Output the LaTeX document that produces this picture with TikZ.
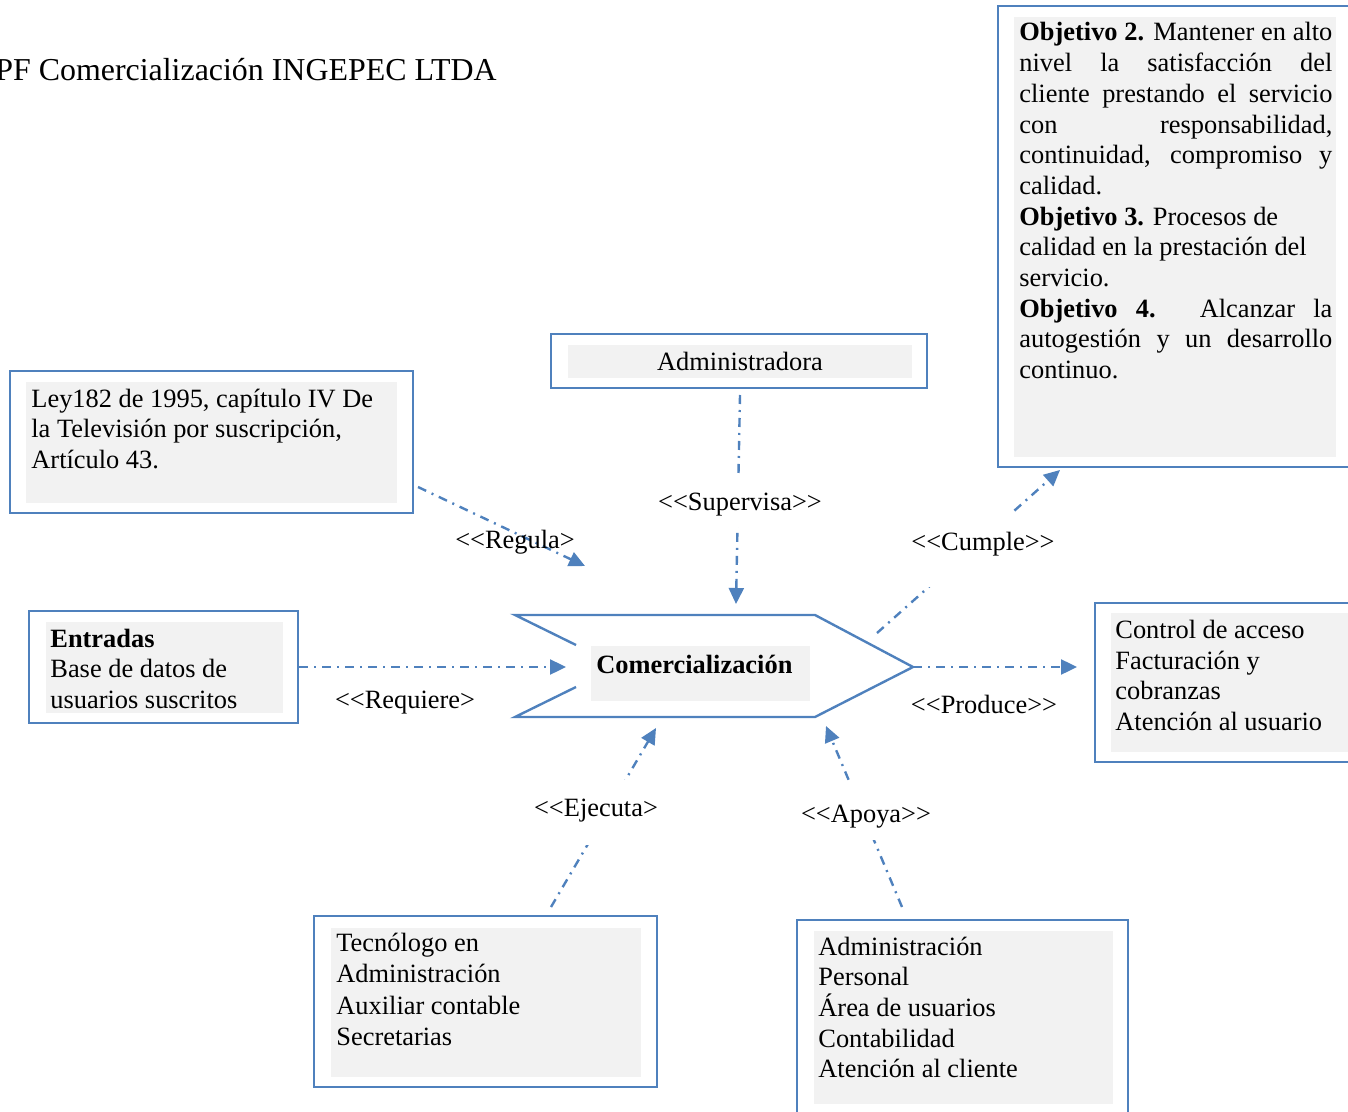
\documentclass[tikz,border=0pt]{standalone}
\usepackage{fontspec}
\setmainfont{Liberation Serif}
\usetikzlibrary{arrows.meta,fit}
\definecolor{edgeblue}{RGB}{79,129,189}
\definecolor{panelgrey}{RGB}{242,242,242}
% guillemet-free double angle brackets
\newcommand{\dlt}{<\kern0pt<}
\newcommand{\dgt}{>\kern0pt>}

\begin{document}
\begin{tikzpicture}[x=0.5pt,y=-0.5pt,
  boxframe/.style={draw=edgeblue, line width=1.2pt, inner sep=0pt},
  boxpanel/.style={fill=panelgrey, inner sep=0pt},
  bodyfont/.style={font=\fontsize{13.2}{15.35}\selectfont},
  txt/.style={bodyfont, anchor=base west, inner sep=0pt, align=left},
  link/.style={draw=edgeblue, line width=1.2pt,
    dash pattern=on 4.5pt off 3pt on 1pt off 3pt,
    -{Triangle[length=8pt,width=7.5pt]}},
  tag/.style={bodyfont, anchor=base, inner sep=0pt},
  gaptag/.style={tag, fill=white}
]
\useasboundingbox (0,0) rectangle (1348,1112);

% title
\node[anchor=base west, inner sep=0pt, font=\fontsize{15.95}{18}\selectfont] (title) at (-5,81)
  {PF Comercialización INGEPEC LTDA};

% objectives (top right)
\node[boxframe, fit={(998,6) (1356,467)}] (obj) {};
\node[boxpanel, fit={(1014,17) (1336,457)}] (objp) {};
\node[bodyfont, anchor=base west, inner sep=0pt, text width=156.5pt, align=justify] (objt) at (1019,41)
  {\parindent=0pt\tolerance=10000\hbadness=10000
   \textbf{Objetivo 2.} Mantener en alto\linebreak nivel la satisfacción del\linebreak
   cliente prestando el servicio\linebreak con responsabilidad,\linebreak
   continuidad, compromiso y\linebreak calidad.\par
   \textbf{Objetivo 3.} Procesos de\newline calidad en la prestación del\newline servicio.\par
   \textbf{Objetivo 4.} Alcanzar la\linebreak autogestión y un desarrollo\linebreak continuo.\par};

% supervising body
\node[boxframe, fit={(551,334) (927,388)}] (adm) {};
\node[boxpanel, fit={(568,345) (912,378)}] (admp) {};
\node[tag] (admt) at (740,371) {Administradora};

% regulation (text nodes are anchored at the baseline of their last line)
\node[boxframe, fit={(10,371) (413,513)}] (ley) {};
\node[boxpanel, fit={(26,382) (397,503)}] (leyp) {};
\node[txt] (leyt) at (31,468.4) {Ley182 de 1995, capítulo IV De\\la Televisión por suscripción,\\Artículo 43.};

% inputs
\node[boxframe, fit={(29,611) (298,723)}] (ent) {};
\node[boxpanel, fit={(46,622) (283,713)}] (entp) {};
\node[txt] (entt) at (50,708.4) {\textbf{Entradas}\\Base de datos de\\usuarios suscritos};

% outputs
\node[boxframe, fit={(1095,603) (1356,762)}] (out) {};
\node[boxpanel, fit={(1111,613) (1352,752)}] (outp) {};
\node[txt] (outt) at (1115,730.5) {Control de acceso\\Facturación y\\cobranzas\\Atención al usuario};

% executing staff
\node[boxframe, fit={(314,916) (657,1087)}] (tec) {};
\node[boxpanel, fit={(331,928) (641,1077)}] (tecp) {};
\node[txt, font=\fontsize{13.2}{15.75}\selectfont] (tect) at (336,1045.5)
  {Tecnólogo en\\Administración\\Auxiliar contable\\Secretarias};

% support areas
\node[boxframe, fit={(797,920) (1128,1125)}] (apo) {};
\node[boxpanel, fit={(814,931) (1113,1104)}] (apop) {};
\node[txt] (apot) at (818,1077.8) {Administración\\Personal\\Área de usuarios\\Contabilidad\\Atención al cliente};

% central process (chevron)
\coordinate (tip) at (913,667);
\draw[edgeblue, line width=1.2pt] (576,645) -- (515,615) -- (815,615) -- (tip)
  -- (815,717) -- (515,717) -- (576,687);
\node[boxpanel, fit={(591,646) (810,701)}] (comp) {};
\node[anchor=base west, inner sep=0pt, font=\fontsize{13.2}{15.35}\selectfont\bfseries] (com) at (596,673)
  {Comercialización};

% connector end points
\coordinate (regA) at (418,487);  \coordinate (regB) at (585,566);
\coordinate (supA) at (740,395);  \coordinate (supB) at (736,604);
\coordinate (cumA) at (877,633);  \coordinate (cumB) at (1060,470);
\coordinate (reqB) at (566,667);
\coordinate (proB) at (1077,667);
\coordinate (ejeA) at (551,907);  \coordinate (ejeB) at (656,728);
\coordinate (apyA) at (902,907);  \coordinate (apyB) at (826,726);

% connectors
\draw[link] (regA) -- (regB);
\draw[link] (supA) -- (supB);
\draw[link] (cumA) -- (cumB);
\draw[link] (ent.east) -- (reqB);
\draw[link] (tip) -- (proB);
\draw[link] (ejeA) -- (ejeB);
\draw[link] (apyA) -- (apyB);

% connector labels
\node[tag] (lreg) at (515,548) {\dlt Regula>};
\node[gaptag, minimum width=85pt, text height=16pt, text depth=8.5pt] (lsup) at (740,510) {\dlt Supervisa\dgt};
\node[gaptag, minimum width=75pt, text height=19pt, text depth=18.5pt] (lcum) at (983,550) {\dlt Cumple\dgt};
\node[tag] (lreq) at (405,708) {\dlt Requiere>};
\node[tag] (lpro) at (984,713) {\dlt Produce\dgt};
\node[gaptag, minimum width=65pt, text height=18pt, text depth=14.5pt] (leje) at (596,816) {\dlt Ejecuta>};
\node[gaptag, minimum width=67.5pt, text height=20.5pt, text depth=9pt] (lapy) at (866,822) {\dlt Apoya\dgt};
\end{tikzpicture}
\end{document}
